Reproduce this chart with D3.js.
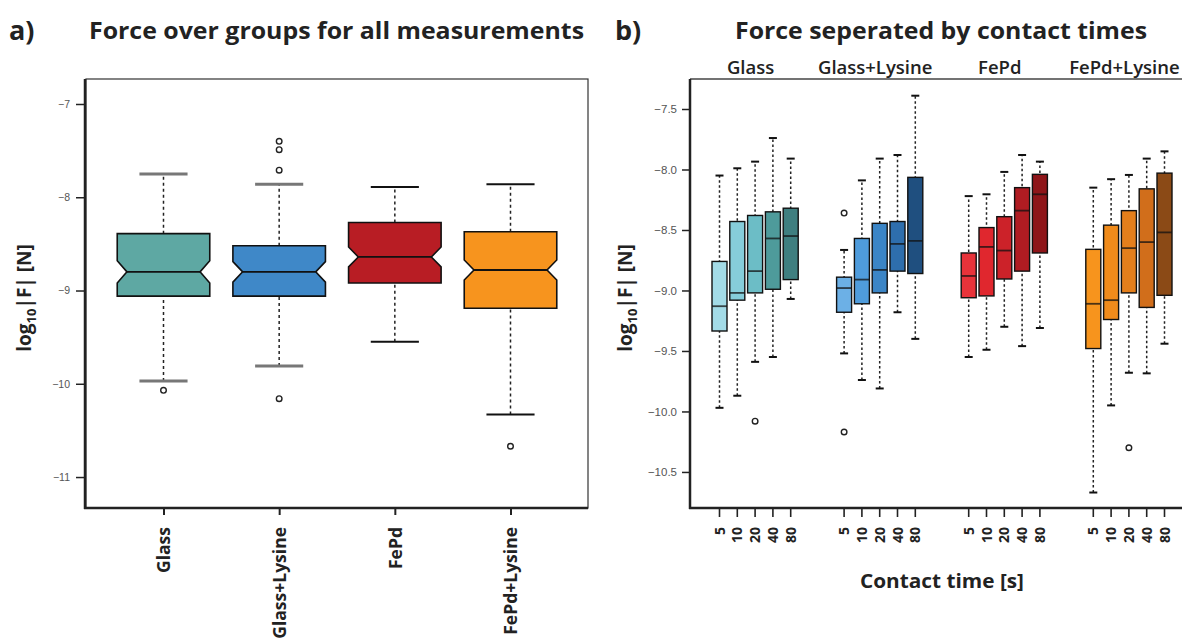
<!DOCTYPE html>
<html>
<head>
<meta charset="utf-8">
<script src="https://cdn.jsdelivr.net/npm/d3@7"></script>
<style>
  body { margin: 0; background: #fff; }
  text { font-family: "Open Sans", "DejaVu Sans", sans-serif; }
</style>
</head>
<body>
<div id="chart"></div>
<script>
// ---- data ----
var groups = ["Glass", "Glass+Lysine", "FePd", "FePd+Lysine"];
var contactTimes = ["5", "10", "20", "40", "80"];

// panel a: [lower whisker, Q1, median, Q3, upper whisker]
var statsA = [
    [-9.97, -9.06, -8.80, -8.39, -7.75],
    [-9.81, -9.06, -8.80, -8.52, -7.86],
    [-9.55, -8.92, -8.64, -8.27, -7.89],
    [-10.33, -9.19, -8.78, -8.37, -7.86]
];
var notchA = [0.12, 0.11, 0.107, 0.107];
var outliersA = [[-10.07], [-7.40, -7.49, -7.71, -10.16], [], [-10.67]];
var colorsA = ["#5ea8a3", "#3f88c8", "#b81d24", "#f7941e"];
var capColorsA = ["#777", "#777", "#111", "#111"];
var yTicksA = [-7, -8, -9, -10, -11];

// panel b: per group, per contact time [lower whisker, Q1, median, Q3, upper whisker]
var statsB = [
    [[-9.97, -9.335, -9.13, -8.76, -8.05],
     [-9.87, -9.08, -9.02, -8.43, -7.99],
     [-9.59, -9.02, -8.84, -8.38, -7.935],
     [-9.55, -8.99, -8.57, -8.35, -7.74],
     [-9.07, -8.91, -8.55, -8.32, -7.91]],
    [[-9.52, -9.18, -8.98, -8.89, -8.665],
     [-9.74, -9.11, -8.91, -8.57, -8.09],
     [-9.81, -9.02, -8.83, -8.445, -7.91],
     [-9.18, -8.84, -8.615, -8.43, -7.88],
     [-9.40, -8.86, -8.59, -8.065, -7.39]],
    [[-9.55, -9.06, -8.88, -8.69, -8.22],
     [-9.49, -9.045, -8.64, -8.48, -8.205],
     [-9.30, -8.905, -8.67, -8.39, -8.02],
     [-9.46, -8.84, -8.34, -8.15, -7.88],
     [-9.31, -8.69, -8.205, -8.04, -7.935]],
    [[-10.67, -9.48, -9.11, -8.66, -8.15],
     [-9.95, -9.24, -9.08, -8.46, -8.08],
     [-9.68, -9.02, -8.65, -8.34, -8.045],
     [-9.685, -9.14, -8.60, -8.16, -7.91],
     [-9.44, -9.04, -8.52, -8.03, -7.85]]
];
var outliersB = [
    [[], [], [-10.08], [], []],
    [[-8.36, -10.17], [], [], [], []],
    [[], [], [], [], []],
    [[], [], [-10.30], [], []]
];
var colorsB = [
    ["#a3dbe7", "#86cdda", "#6cbdc6", "#4e9b9b", "#3f7f80"],
    ["#6cb0e6", "#4f9cdc", "#3b85c6", "#2e6ead", "#1f4f7f"],
    ["#e8333a", "#e0272e", "#cc2229", "#b01c22", "#8e1519"],
    ["#f7941d", "#f08b1b", "#e47f1c", "#d16e1b", "#8b4a16"]
];
var yTicksB = [-7.5, -8.0, -8.5, -9.0, -9.5, -10.0, -10.5];

var svg = d3.select("#chart")
    .append("svg")
    .attr("width", 1182)
    .attr("height", 641);

// y axis label with subscript
var addYLabel = function(x, y) {
    var t = svg.append("text").attr("transform", "translate(" + x + "," + y + ") rotate(-90)")
        .attr("text-anchor", "middle").style("font-size", "19px").style("font-weight", 700).attr("fill", "#222");
    t.append("tspan").text("log");
    t.append("tspan").attr("dy", 5).style("font-size", "13px").text("10");
    t.append("tspan").attr("dy", -5).text("|F| [N]");
};

// ---------- panel a ----------
var a = { left: 86, right: 588, top: 79, bottom: 508 };
var xA = d3.scalePoint().domain(groups).range([a.left, a.right]).padding(0.67);
var yA = d3.scaleLinear().domain([-11.332, -6.732]).range([a.bottom, a.top]);

svg.append("text").attr("x", 9).attr("y", 40)
    .style("font-size", "27px").style("font-weight", 700).attr("fill", "#222").text("a)");
svg.append("text").attr("x", 89).attr("y", 39)
    .attr("textLength", 495).attr("lengthAdjust", "spacingAndGlyphs")
    .style("font-size", "23px").style("font-weight", 700).attr("fill", "#222")
    .text("Force over groups for all measurements");

svg.append("rect").attr("x", a.left).attr("y", a.top)
    .attr("width", a.right - a.left).attr("height", a.bottom - a.top)
    .attr("fill", "none").attr("stroke", "#333").attr("stroke-width", 1.2);

var axA = svg.append("g").attr("transform", "translate(" + (a.left - 1) + ",0)")
    .call(d3.axisLeft(yA).tickValues(yTicksA).tickSize(9).tickPadding(6)
        .tickFormat(function(d) { return "\u2212" + Math.abs(d); }));
axA.select(".domain").remove();
axA.selectAll("line").attr("stroke", "#222").attr("stroke-width", 1.5);
axA.selectAll("text").style("font-size", "10.5px").attr("fill", "#555")
    .style("font-family", "'Liberation Sans', sans-serif");
svg.append("line").attr("x1", a.left - 1).attr("x2", a.left - 1)
    .attr("y1", a.top).attr("y2", a.bottom + 1)
    .attr("stroke", "#222").attr("stroke-width", 2.5);

var bxA = svg.append("g").attr("transform", "translate(0," + (a.bottom + 1) + ")")
    .call(d3.axisBottom(xA).tickSize(6).tickPadding(0));
bxA.select(".domain").remove();
bxA.selectAll("line").attr("stroke", "#222").attr("stroke-width", 2);
bxA.selectAll("text")
    .attr("transform", "rotate(-90)")
    .attr("x", -18).attr("y", 0).attr("dy", "0.36em")
    .attr("text-anchor", "end")
    .style("font-size", "17.5px").style("font-weight", 700).attr("fill", "#222");
svg.append("line").attr("x1", a.left - 2).attr("x2", a.right)
    .attr("y1", a.bottom).attr("y2", a.bottom)
    .attr("stroke", "#222").attr("stroke-width", 2.5);

addYLabel(31, 298);

var boxWA = xA.step() * 0.8;
var notchDepth = boxWA * 0.105;

groups.forEach(function(g, i) {
    var s = statsA[i];
    var cx = xA(g);
    var x0 = cx - boxWA / 2, x1 = cx + boxWA / 2;
    var capW = boxWA * 0.52;

    // whiskers
    svg.append("line").attr("x1", cx).attr("x2", cx).attr("y1", yA(s[0])).attr("y2", yA(s[1]))
        .attr("stroke", "#222").attr("stroke-width", 1.5).attr("stroke-dasharray", "3,3");
    svg.append("line").attr("x1", cx).attr("x2", cx).attr("y1", yA(s[3])).attr("y2", yA(s[4]))
        .attr("stroke", "#222").attr("stroke-width", 1.5).attr("stroke-dasharray", "3,3");
    [s[0], s[4]].forEach(function(v) {
        svg.append("line").attr("x1", cx - capW / 2).attr("x2", cx + capW / 2)
            .attr("y1", yA(v)).attr("y2", yA(v))
            .attr("stroke", capColorsA[i]).attr("stroke-width", capColorsA[i] == "#111" ? 2 : 3);
    });

    // notched box
    var nLo = s[2] - notchA[i], nHi = s[2] + notchA[i];
    var pts = [
        [x0, yA(s[3])], [x1, yA(s[3])], [x1, yA(nHi)], [x1 - notchDepth, yA(s[2])],
        [x1, yA(nLo)], [x1, yA(s[1])], [x0, yA(s[1])], [x0, yA(nLo)],
        [x0 + notchDepth, yA(s[2])], [x0, yA(nHi)]
    ];
    svg.append("path").attr("d", d3.line()(pts) + "Z")
        .attr("fill", colorsA[i]).attr("stroke", "#111").attr("stroke-width", 1.6);
    svg.append("line").attr("x1", x0 + notchDepth).attr("x2", x1 - notchDepth)
        .attr("y1", yA(s[2])).attr("y2", yA(s[2]))
        .attr("stroke", "#111").attr("stroke-width", 1.8);

    svg.selectAll(".outA" + i).data(outliersA[i]).enter().append("circle")
        .attr("cx", cx).attr("cy", function(d) { return yA(d); }).attr("r", 2.8)
        .attr("fill", "none").attr("stroke", "#222").attr("stroke-width", 1.4);
});

// ---------- panel b ----------
var b = { left: 692, top: 79, bottom: 508 };
var xB = d3.scaleLinear().domain([1, 26]).range([719.5, 1164.5]);
var yB = d3.scaleLinear().domain([-10.798, -7.252]).range([b.bottom, b.top]);
var slot = function(gi, ti) { return gi * 7 + ti + 1; };

svg.append("text").attr("x", 615).attr("y", 40)
    .style("font-size", "27px").style("font-weight", 700).attr("fill", "#222").text("b)");
svg.append("text").attr("x", 735).attr("y", 39)
    .attr("textLength", 412).attr("lengthAdjust", "spacingAndGlyphs")
    .style("font-size", "23px").style("font-weight", 700).attr("fill", "#222")
    .text("Force seperated by contact times");

svg.selectAll(".grpLabel").data(groups).enter().append("text")
    .attr("class", "grpLabel")
    .attr("x", function(d, i) { return xB(slot(i, 2)) - 4.5; })
    .attr("y", 74).attr("text-anchor", "middle")
    .style("font-size", "18.5px").style("font-weight", 600).attr("fill", "#222")
    .text(function(d) { return d; });

svg.append("line").attr("x1", b.left - 2).attr("x2", 1182)
    .attr("y1", b.top).attr("y2", b.top)
    .attr("stroke", "#444").attr("stroke-width", 1.5);

var axB = svg.append("g").attr("transform", "translate(" + (b.left - 2) + ",0)")
    .call(d3.axisLeft(yB).tickValues(yTicksB).tickSize(8).tickPadding(5)
        .tickFormat(function(d) { return "\u2212" + Math.abs(d).toFixed(1); }));
axB.select(".domain").remove();
axB.selectAll("line").attr("stroke", "#222").attr("stroke-width", 1.5);
axB.selectAll("text").style("font-size", "11.5px").attr("fill", "#555")
    .style("font-family", "'Liberation Sans', sans-serif");
svg.append("line").attr("x1", b.left - 2).attr("x2", b.left - 2)
    .attr("y1", b.top).attr("y2", b.bottom + 1)
    .attr("stroke", "#222").attr("stroke-width", 2.5);
svg.append("line").attr("x1", b.left - 3).attr("x2", 1182)
    .attr("y1", b.bottom).attr("y2", b.bottom)
    .attr("stroke", "#222").attr("stroke-width", 2.5);

var slotData = [];
groups.forEach(function(g, gi) {
    contactTimes.forEach(function(t, ti) {
        slotData.push({ pos: slot(gi, ti), label: t });
    });
});
var bxB = svg.append("g").attr("transform", "translate(0," + (b.bottom + 1) + ")");
bxB.selectAll("line").data(slotData).enter().append("line")
    .attr("x1", function(d) { return xB(d.pos); }).attr("x2", function(d) { return xB(d.pos); })
    .attr("y1", 0).attr("y2", 8).attr("stroke", "#222").attr("stroke-width", 1.6);
bxB.selectAll("text").data(slotData).enter().append("text")
    .attr("transform", function(d) { return "translate(" + xB(d.pos) + ",0) rotate(-90)"; })
    .attr("x", -18).attr("dy", "0.36em").attr("text-anchor", "end")
    .style("font-size", "14px").style("font-weight", 700).attr("fill", "#222")
    .text(function(d) { return d.label; });

svg.append("text").attr("x", 860).attr("y", 588)
    .attr("textLength", 164).attr("lengthAdjust", "spacingAndGlyphs")
    .style("font-size", "20px").style("font-weight", 700).attr("fill", "#222")
    .text("Contact time [s]");

addYLabel(632, 298);

var boxWB = 15;
statsB.forEach(function(grp, gi) {
    grp.forEach(function(s, ti) {
        var cx = xB(slot(gi, ti));
        svg.append("line").attr("x1", cx).attr("x2", cx).attr("y1", yB(s[0])).attr("y2", yB(s[4]))
            .attr("stroke", "#222").attr("stroke-width", 1.5).attr("stroke-dasharray", "2.5,2.5");
        [s[0], s[4]].forEach(function(v) {
            svg.append("line").attr("x1", cx - 4).attr("x2", cx + 4)
                .attr("y1", yB(v)).attr("y2", yB(v))
                .attr("stroke", "#111").attr("stroke-width", 2);
        });
        svg.append("rect").attr("x", cx - boxWB / 2).attr("width", boxWB)
            .attr("y", yB(s[3])).attr("height", yB(s[1]) - yB(s[3]))
            .attr("fill", colorsB[gi][ti]).attr("stroke", "#111").attr("stroke-width", 1.4);
        svg.append("line").attr("x1", cx - boxWB / 2).attr("x2", cx + boxWB / 2)
            .attr("y1", yB(s[2])).attr("y2", yB(s[2]))
            .attr("stroke", "#111").attr("stroke-width", 1.8).attr("stroke-opacity", 0.75);
        outliersB[gi][ti].forEach(function(v) {
            svg.append("circle").attr("cx", cx).attr("cy", yB(v)).attr("r", 2.8)
                .attr("fill", "none").attr("stroke", "#222").attr("stroke-width", 1.4);
        });
    });
});
</script>
</body>
</html>
